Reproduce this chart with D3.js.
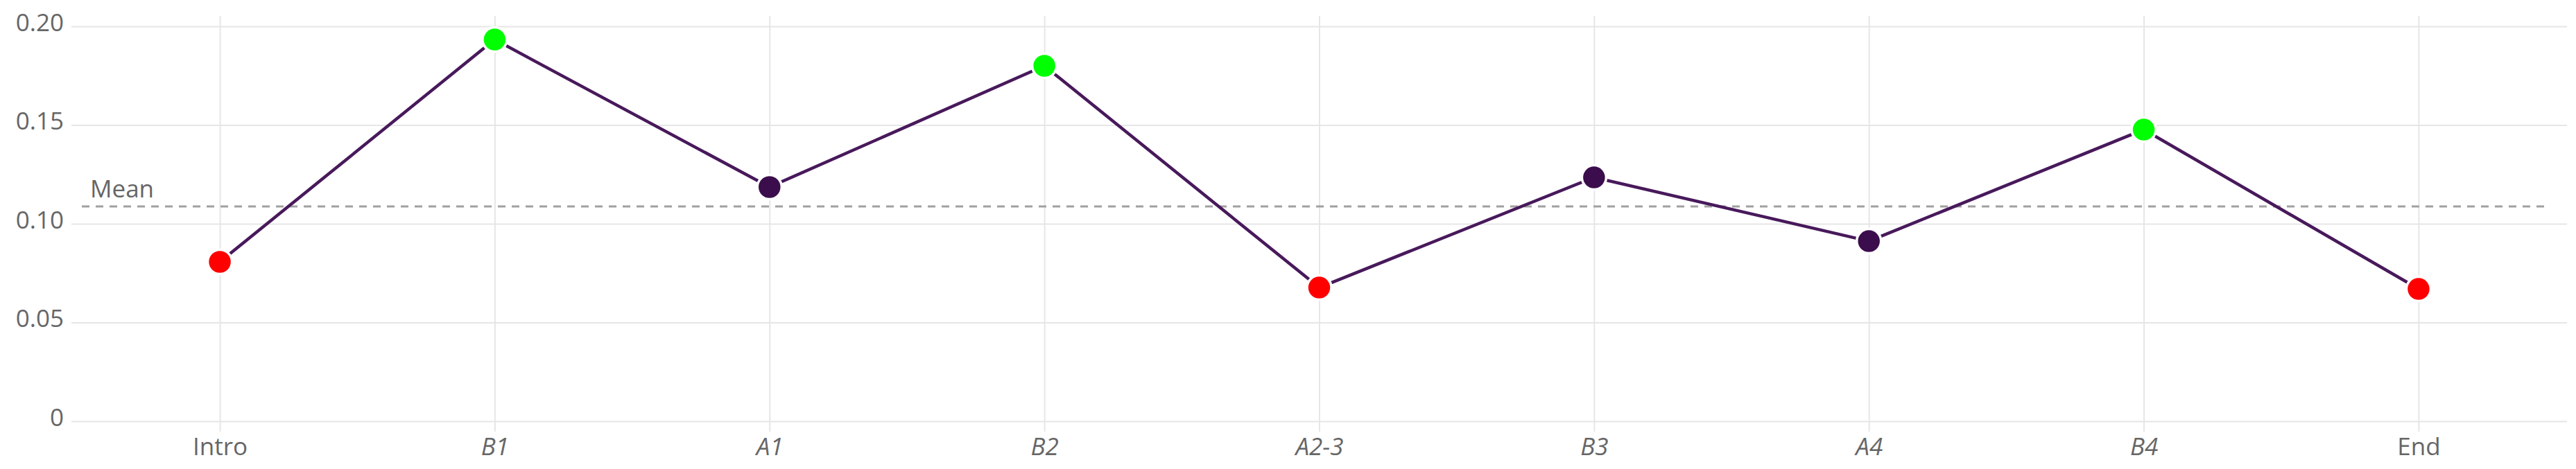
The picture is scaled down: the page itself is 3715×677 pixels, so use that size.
<!DOCTYPE html>
<html>
<head>
<meta charset="utf-8">
<script src="https://cdn.jsdelivr.net/npm/d3@7/dist/d3.min.js"></script>
<style>
  html, body { margin: 0; padding: 0; background: #ffffff; }
  svg { display: block; }
  text { font-family: "Segoe UI", "Open Sans", "Noto Sans", sans-serif; fill: #666666; }
</style>
</head>
<body>
<svg id="chart" width="3715" height="677"></svg>
<script>
// ---- data ----
const categories = ["Intro", "B1", "A1", "B2", "A2-3", "B3", "A4", "B4", "End"];
const italicLabels = ["B1", "A1", "B2", "A2-3", "B3", "A4", "B4"];
const values = [0.0807, 0.1933, 0.1186, 0.1800, 0.0677, 0.1235, 0.0912, 0.1477, 0.0670];
const status = ["low", "high", "mid", "high", "low", "mid", "mid", "high", "low"];
const meanValue = 0.1088;
const meanLabel = "Mean";
const yTicks = [0, 0.05, 0.10, 0.15, 0.20];
const yTickLabels = ["0", "0.05", "0.10", "0.15", "0.20"];

// ---- layout ----
const plotLeft = 103, plotRight = 3702, plotTop = 38, plotBottom = 608;
const vTop = 23, vBottom = 623;
const statusColor = { low: "#FF0000", high: "#00FF00", mid: "#3B0D4C" };

const svg = d3.select("#chart");

const x = d3.scalePoint().domain(categories).range([plotLeft, plotRight]).padding(0.54);
const y = d3.scaleLinear().domain([0, 0.2]).range([plotBottom, plotTop]);

// horizontal gridlines + y labels
const yAxis = d3.axisLeft(y)
  .tickValues(yTicks)
  .tickFormat((d, i) => yTickLabels[i])
  .tickSize(-(plotRight - plotLeft))
  .tickPadding(11);
const gy = svg.append("g").attr("transform", `translate(${plotLeft},0)`).call(yAxis);
gy.select(".domain").remove();
gy.selectAll(".tick line").attr("stroke", "#E6E6E6").attr("stroke-width", 2);
gy.selectAll(".tick text")
  .attr("font-size", 35)
  .attr("fill", "#666666")
  .attr("font-family", "'Segoe UI', 'Open Sans', 'Noto Sans', sans-serif")
  .attr("dy", "0.18em");

// vertical gridlines + x labels
const xAxis = d3.axisBottom(x)
  .tickSize(-(vBottom - vTop))
  .tickPadding(0);
const gx = svg.append("g").attr("transform", `translate(0,${vBottom})`).call(xAxis);
gx.select(".domain").remove();
gx.selectAll(".tick line").attr("stroke", "#E6E6E6").attr("stroke-width", 2);
gx.selectAll(".tick text")
  .attr("font-size", 35)
  .attr("fill", "#666666")
  .attr("font-family", "'Segoe UI', 'Open Sans', 'Noto Sans', sans-serif")
  .attr("y", 34)
  .attr("dy", 0)
  .attr("font-style", d => italicLabels.includes(d) ? "italic" : "normal");

// mean line
svg.append("line")
  .attr("x1", 118).attr("x2", 3678)
  .attr("y1", y(meanValue)).attr("y2", y(meanValue))
  .attr("stroke", "#A0A0A0")
  .attr("stroke-width", 3)
  .attr("stroke-dasharray", "11,9");
svg.append("text")
  .attr("x", 130)
  .attr("y", y(meanValue) - 13)
  .attr("font-size", 35)
  .attr("fill", "#666666")
  .text(meanLabel);

// series line
const pts = categories.map((c, i) => ({ c, v: values[i], s: status[i] }));
const line = d3.line().x(d => x(d.c)).y(d => y(d.v));
svg.append("path")
  .datum(pts)
  .attr("d", line)
  .attr("fill", "none")
  .attr("stroke", "#48195B")
  .attr("stroke-width", 4.5)
  .attr("stroke-linejoin", "round");

// points
svg.append("g").selectAll("circle")
  .data(pts)
  .join("circle")
  .attr("cx", d => x(d.c))
  .attr("cy", d => y(d.v))
  .attr("r", 17.5)
  .attr("fill", d => statusColor[d.s])
  .attr("stroke", "#ffffff")
  .attr("stroke-width", 3.5);
</script>
</body>
</html>
